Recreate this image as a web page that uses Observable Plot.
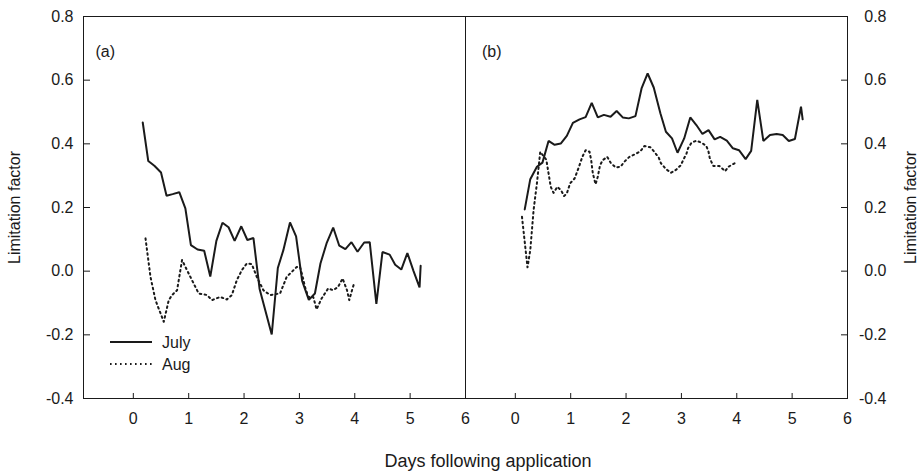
<!DOCTYPE html>
<html>
<head>
<meta charset="utf-8">
<script src="https://cdn.jsdelivr.net/npm/d3@7"></script>
<script src="https://cdn.jsdelivr.net/npm/@observablehq/plot@0.6"></script>
<style>
  html, body { margin: 0; padding: 0; background: #fff; }
  #wrap { position: relative; width: 918px; height: 471px; font-family: "Liberation Sans", Arial, sans-serif; color: #1a1a1a; overflow: hidden; }
  #xtitle { position: absolute; left: 0; top: 451px; width: 976px; text-align: center; font-size: 18px; }
  #legend { position: absolute; left: 0; top: 0; pointer-events: none; }
</style>
</head>
<body>
<div id="wrap">
  <div id="chart"></div>
  <div id="xtitle">Days following application</div>
  <svg id="legend" width="918" height="471">
    <line x1="110" x2="152" y1="342" y2="342" stroke="#1a1a1a" stroke-width="2"/>
    <text x="162" y="348" font-size="16" fill="#1a1a1a" font-family="Liberation Sans, Arial, sans-serif">July</text>
    <line x1="110" x2="152" y1="364" y2="364" stroke="#1a1a1a" stroke-width="2" stroke-dasharray="1.6,3.4"/>
    <text x="162" y="370" font-size="16" fill="#1a1a1a" font-family="Liberation Sans, Arial, sans-serif">Aug</text>
  </svg>
</div>
<script>
// Panels
const panels = ["a", "b"];
const xTicks = [0, 1, 2, 3, 4, 5, 6];
const yTicks = [-0.4, -0.2, 0, 0.2, 0.4, 0.6, 0.8];

// Panel (a) — July
const julyA_day = [0.17, 0.27, 0.38, 0.50, 0.60, 0.71, 0.83, 0.94, 1.04, 1.16, 1.28, 1.39, 1.50, 1.61, 1.72, 1.83, 1.95, 2.06, 2.17, 2.28, 2.50, 2.61, 2.71, 2.83, 2.94, 3.05, 3.17, 3.28, 3.38, 3.49, 3.61, 3.72, 3.83, 3.94, 4.05, 4.17, 4.27, 4.39, 4.50, 4.63, 4.73, 4.84, 4.95, 5.06, 5.17, 5.19];
const julyA_val = [0.467, 0.346, 0.331, 0.310, 0.237, 0.242, 0.248, 0.197, 0.082, 0.068, 0.064, -0.017, 0.095, 0.152, 0.138, 0.095, 0.141, 0.098, 0.104, -0.055, -0.199, 0.010, 0.066, 0.153, 0.109, -0.031, -0.090, -0.070, 0.024, 0.087, 0.137, 0.080, 0.069, 0.091, 0.061, 0.090, 0.091, -0.103, 0.060, 0.052, 0.020, 0.005, 0.057, 0.001, -0.051, 0.017];

// Panel (a) — Aug
const augA_day = [0.22, 0.31, 0.40, 0.55, 0.64, 0.70, 0.79, 0.88, 0.97, 1.18, 1.33, 1.42, 1.57, 1.69, 1.78, 1.87, 1.96, 2.05, 2.14, 2.23, 2.35, 2.47, 2.65, 2.77, 2.95, 3.01, 3.06, 3.10, 3.16, 3.25, 3.31, 3.40, 3.52, 3.61, 3.70, 3.78, 3.86, 3.90, 3.95, 3.99];
const augA_val = [0.103, -0.018, -0.091, -0.159, -0.091, -0.075, -0.060, 0.035, 0.003, -0.070, -0.075, -0.091, -0.081, -0.089, -0.075, -0.028, 0.003, 0.024, 0.022, -0.018, -0.060, -0.075, -0.070, -0.018, 0.013, 0.013, -0.018, -0.049, -0.081, -0.081, -0.120, -0.086, -0.054, -0.060, -0.049, -0.023, -0.060, -0.091, -0.060, -0.037];

// Panel (b) — July
const julyB_day = [0.17, 0.27, 0.39, 0.49, 0.60, 0.71, 0.82, 0.93, 1.04, 1.16, 1.27, 1.38, 1.49, 1.60, 1.72, 1.83, 1.94, 2.05, 2.17, 2.28, 2.39, 2.50, 2.62, 2.72, 2.83, 2.93, 3.05, 3.16, 3.27, 3.38, 3.49, 3.60, 3.70, 3.82, 3.93, 4.04, 4.16, 4.26, 4.37, 4.48, 4.60, 4.72, 4.83, 4.94, 5.05, 5.16, 5.19];
const julyB_val = [0.194, 0.289, 0.328, 0.341, 0.409, 0.397, 0.401, 0.425, 0.466, 0.477, 0.484, 0.529, 0.483, 0.491, 0.485, 0.503, 0.483, 0.480, 0.487, 0.574, 0.621, 0.577, 0.496, 0.438, 0.417, 0.372, 0.417, 0.483, 0.459, 0.431, 0.443, 0.414, 0.422, 0.410, 0.386, 0.380, 0.352, 0.378, 0.538, 0.409, 0.428, 0.431, 0.428, 0.409, 0.415, 0.517, 0.477];

// Panel (b) — Aug
const augB_day = [0.12, 0.22, 0.27, 0.33, 0.39, 0.45, 0.56, 0.64, 0.69, 0.76, 0.83, 0.88, 0.93, 0.99, 1.07, 1.15, 1.21, 1.27, 1.34, 1.37, 1.40, 1.45, 1.49, 1.53, 1.58, 1.66, 1.72, 1.81, 1.90, 1.97, 2.06, 2.17, 2.26, 2.33, 2.44, 2.51, 2.59, 2.63, 2.72, 2.81, 2.90, 2.99, 3.04, 3.09, 3.12, 3.18, 3.27, 3.37, 3.45, 3.49, 3.51, 3.54, 3.58, 3.69, 3.79, 3.85, 3.96];
const augB_val = [0.171, 0.012, 0.066, 0.192, 0.276, 0.375, 0.350, 0.265, 0.246, 0.265, 0.253, 0.236, 0.244, 0.276, 0.291, 0.328, 0.359, 0.380, 0.375, 0.349, 0.307, 0.273, 0.297, 0.333, 0.349, 0.359, 0.341, 0.326, 0.328, 0.344, 0.359, 0.368, 0.377, 0.393, 0.389, 0.375, 0.357, 0.339, 0.321, 0.309, 0.318, 0.333, 0.352, 0.368, 0.386, 0.403, 0.410, 0.403, 0.393, 0.375, 0.357, 0.344, 0.330, 0.330, 0.314, 0.328, 0.339];

function rows(panel, series, days, vals) {
  return days.map((d, i) => ({panel, series, day: d, value: vals[i]}));
}
const july = [...rows("a", "July", julyA_day, julyA_val), ...rows("b", "July", julyB_day, julyB_val)];
const aug = [...rows("a", "Aug", augA_day, augA_val), ...rows("b", "Aug", augB_day, augB_val)];

const ink = "#1a1a1a";
const fmt = d => d.toFixed(1);

const chart = Plot.plot({
  width: 918,
  height: 440,
  marginLeft: 83,
  marginRight: 71,
  marginTop: 16,
  marginBottom: 42,
  style: {fontFamily: "'Liberation Sans', Arial, sans-serif", fontSize: "16px", color: ink, background: "white", overflow: "visible"},
  fx: {domain: panels, padding: 0, axis: null, label: null},
  x: {domain: [-0.9, 6]},
  y: {domain: [-0.4, 0.8]},
  marks: [
    Plot.frame({stroke: ink, strokeWidth: 1}),
    Plot.axisX({ticks: xTicks, tickSize: -5, tickPadding: 19, tickFormat: d => String(d), label: null, stroke: ink, fontSize: 16}),
    Plot.axisY({anchor: "left", ticks: yTicks, tickSize: -7, tickPadding: 17, tickFormat: fmt, fontSize: 16,
      label: "Limitation factor", labelAnchor: "center", labelArrow: "none", labelOffset: 75, stroke: ink}),
    Plot.axisY({anchor: "right", ticks: yTicks, tickSize: -7, tickPadding: 46, textAnchor: "end", tickFormat: fmt, fontSize: 16,
      label: "Limitation factor", labelAnchor: "center", labelArrow: "none", labelOffset: 68, stroke: ink}),
    Plot.line(july, {x: "day", y: "value", fx: "panel", stroke: ink, strokeWidth: 2, strokeLinejoin: "miter"}),
    Plot.line(aug, {x: "day", y: "value", fx: "panel", stroke: ink, strokeWidth: 2, strokeDasharray: "1.6,3.4"}),
    Plot.text(["a"], {fx: d => d, text: d => `(${d})`, frameAnchor: "top-left", dx: 12, dy: 29, textAnchor: "start", fill: ink, fontSize: 16}),
    Plot.text(["b"], {fx: d => d, text: d => `(${d})`, frameAnchor: "top-left", dx: 16.5, dy: 29, textAnchor: "start", fill: ink, fontSize: 16})
  ]
});
document.getElementById("chart").appendChild(chart);
</script>
</body>
</html>
